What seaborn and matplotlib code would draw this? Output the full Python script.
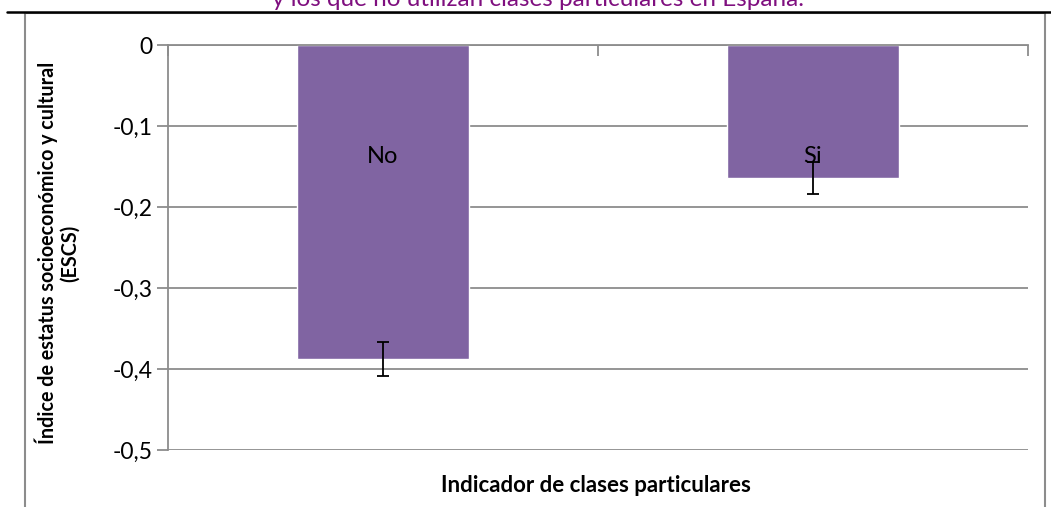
import matplotlib
matplotlib.use("Agg")

import matplotlib.pyplot as plt
import seaborn as sns
import pandas as pd
from matplotlib.lines import Line2D
from matplotlib.ticker import FixedLocator

categories = ["No", "Si"]
escs = [-0.388, -0.164]
err = [0.021, 0.020]
yticks = [0, -0.1, -0.2, -0.3, -0.4, -0.5]
ytick_labels = ["0", "-0,1", "-0,2", "-0,3", "-0,4", "-0,5"]

title = "y los que no utilizan clases particulares en España."
xlabel = "Indicador de clases particulares"
ylabel = "Índice de estatus socioeconómico y cultural\n(ESCS)"

df = pd.DataFrame({"clases": categories, "escs": escs})

sns.set_style("white")
plt.rcParams["font.family"] = ["Lato", "DejaVu Sans"]
plt.rcParams["text.color"] = "black"
plt.rcParams["ytick.labelcolor"] = "black"

fig = plt.figure(figsize=(10.51, 5.07), dpi=100)
ax = fig.add_axes([168 / 1051, 1 - 450 / 507, 860 / 1051, 405 / 507])

sns.barplot(data=df, x="clases", y="escs", color="#8064A2", width=0.4,
            saturation=1, errorbar=None, ax=ax)
ax.errorbar(range(len(categories)), escs, yerr=err, fmt="none",
            ecolor="black", elinewidth=1.3, capsize=4.5, capthick=1.3, zorder=5)

for i, c in enumerate(categories):
    ax.text(i, -0.138, c, ha="center", va="center", fontsize=17, color="black", zorder=6)

ax.set_ylim(-0.5, 0)
ax.set_xlim(-0.5, 1.5)
ax.set_yticks(yticks)
ax.set_yticklabels(ytick_labels, fontsize=16.5, color="black")
ax.yaxis.grid(True, color="#8c8c8c", linewidth=1.3)
ax.set_axisbelow(True)

ax.xaxis.set_ticks_position("top")
ax.set_xticks([0, 1])
ax.set_xticklabels([])
ax.xaxis.set_minor_locator(FixedLocator([-0.5, 0.5, 1.5]))
ax.tick_params(axis="x", which="major", length=0)
ax.tick_params(axis="x", which="minor", direction="in", length=8, width=1.3, color="#8c8c8c")
ax.tick_params(axis="y", direction="out", length=8, width=1.3, color="#8c8c8c", pad=3)
ax.yaxis.set_ticks_position("left")

for s in ["right", "bottom"]:
    ax.spines[s].set_visible(False)
for s in ["left", "top"]:
    ax.spines[s].set_color("#8c8c8c")
    ax.spines[s].set_linewidth(1.3)

ax.set_xlabel("")
ax.set_ylabel("")
fig.text(596 / 1051, 1 - 486 / 507, xlabel, ha="center", va="center",
         fontsize=16, fontweight="bold", color="black")
fig.text(57 / 1051, 1 - 253 / 507, ylabel, ha="center", va="center",
         rotation=90, fontsize=14.2, fontweight="bold", linespacing=1.1, color="black")

# chart area frame and page line
fig.add_artist(Line2D([25 / 1051, 25 / 1051], [1 - 13 / 507, 0], color="#8c8c8c", lw=1.5))
fig.add_artist(Line2D([1045 / 1051, 1045 / 1051], [1 - 13 / 507, 0], color="#8c8c8c", lw=1.5))
fig.add_artist(Line2D([25 / 1051, 1045 / 1051], [1 - 13 / 507, 1 - 13 / 507], color="#8c8c8c", lw=1.5))
fig.add_artist(Line2D([7 / 1051, 1], [1 - 12 / 507, 1 - 12 / 507], color="black", lw=1.8))

fig.text(538 / 1051, 1 - 6 / 507, title, ha="center", va="baseline",
         fontsize=17.5, color="#7F0F7F")

plt.savefig("out.png", dpi=100)
plt.close()
